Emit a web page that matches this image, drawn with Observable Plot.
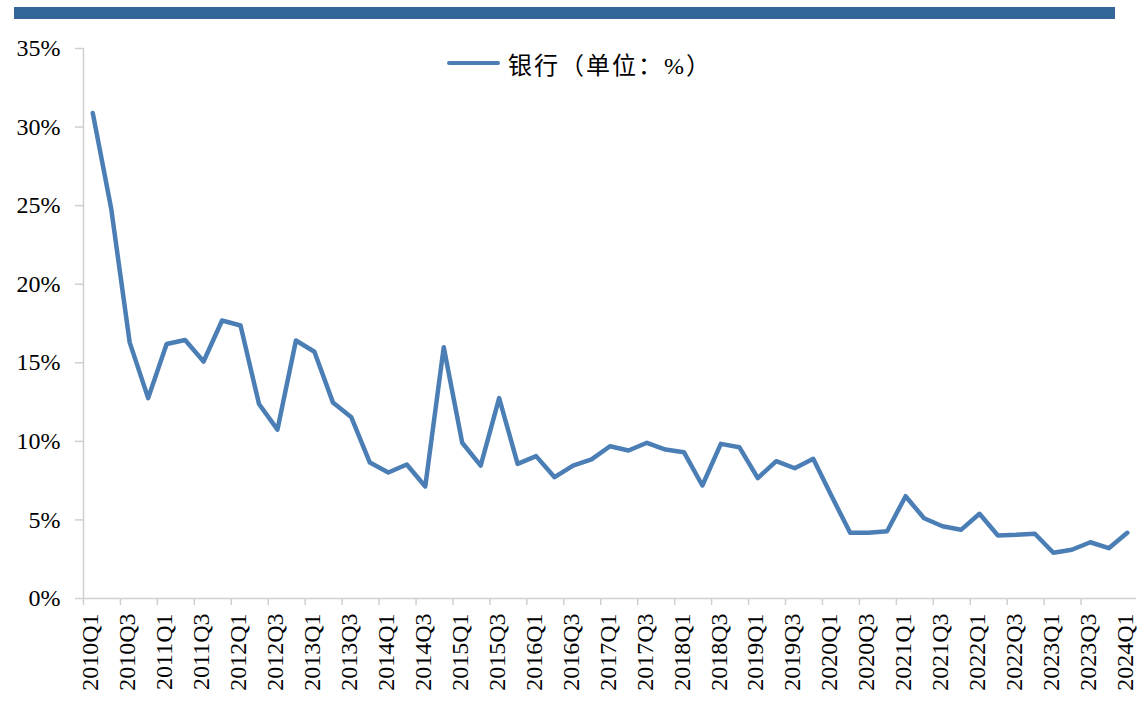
<!DOCTYPE html>
<html>
<head>
<meta charset="utf-8">
<script src="https://cdn.jsdelivr.net/npm/d3@7"></script>
<script src="https://cdn.jsdelivr.net/npm/@observablehq/plot@0.6"></script>
<style>
  html, body { margin: 0; padding: 0; background: #fff; }
  #wrap { position: relative; width: 1137px; height: 701px; overflow: hidden; }
  #bar { position: absolute; left: 14px; top: 7px; width: 1101px; height: 12px; background: #336699; }
  #chart { position: absolute; left: 0; top: 0; }
  #chart svg text { font-family: "Liberation Serif", "Times New Roman", "DejaVu Serif", serif; }
  #legend { position: absolute; left: 447px; top: 47px; height: 32px; display: flex; align-items: center;
            font-family: "Liberation Serif", "Times New Roman", "Noto Sans CJK SC", serif; font-size: 24px; color: #000; }
  #legend .swatch { width: 53px; height: 4px; background: #4a7eb5; border-radius: 2px; margin-right: 8px; }
  #legend .name { letter-spacing: 2px; }
</style>
</head>
<body>
<div id="wrap">
  <div id="chart"></div>
  <div id="bar"></div>
  <div id="legend"><span class="swatch"></span><span class="name">银行（单位：%）</span></div>
</div>
<script>
const seriesName = "银行（单位：%）";
const quarters = [
  "2010Q1","2010Q2","2010Q3","2010Q4",
  "2011Q1","2011Q2","2011Q3","2011Q4",
  "2012Q1","2012Q2","2012Q3","2012Q4",
  "2013Q1","2013Q2","2013Q3","2013Q4",
  "2014Q1","2014Q2","2014Q3","2014Q4",
  "2015Q1","2015Q2","2015Q3","2015Q4",
  "2016Q1","2016Q2","2016Q3","2016Q4",
  "2017Q1","2017Q2","2017Q3","2017Q4",
  "2018Q1","2018Q2","2018Q3","2018Q4",
  "2019Q1","2019Q2","2019Q3","2019Q4",
  "2020Q1","2020Q2","2020Q3","2020Q4",
  "2021Q1","2021Q2","2021Q3","2021Q4",
  "2022Q1","2022Q2","2022Q3","2022Q4",
  "2023Q1","2023Q2","2023Q3","2023Q4",
  "2024Q1"
];
const values = [
  30.9, 24.8, 16.3, 12.75,
  16.2, 16.45, 15.08, 17.69,
  17.37, 12.38, 10.75, 16.42,
  15.7, 12.48, 11.53, 8.65,
  8.02, 8.53, 7.13, 15.99,
  9.91, 8.46, 12.75, 8.57,
  9.06, 7.72, 8.46, 8.85,
  9.69, 9.42, 9.91, 9.48,
  9.31, 7.19, 9.84, 9.63,
  7.66, 8.74, 8.29, 8.89,
  6.5, 4.18, 4.18, 4.28,
  6.51, 5.11, 4.6, 4.37,
  5.39, 4.01, 4.05, 4.12,
  2.91, 3.1, 3.58, 3.2,
  4.18
];
const yTicks = [0, 5, 10, 15, 20, 25, 30, 35];

const data = quarters.map((q, i) => ({i, q, v: values[i]}));
const labelIdx = quarters.map((q, i) => i).filter(i => i % 2 === 0);
const boundaries = labelIdx.filter(i => i < quarters.length - 1).map(i => i - 0.5);

const gray = "#d0d0d0";
const chart = Plot.plot({
  width: 1137,
  height: 701,
  marginTop: 48,
  marginBottom: 103,
  marginLeft: 83,
  marginRight: 1,
  style: "font-family: 'Liberation Serif', 'Times New Roman', serif; font-size: 24px; color: #000; background: transparent;",
  x: {type: "linear", domain: [-0.5, quarters.length - 0.5]},
  y: {domain: [0, 35]},
  marks: [
    Plot.ruleY([0], {stroke: gray, strokeWidth: 1.5}),
    Plot.ruleX([-0.5], {y1: 0, y2: 35, stroke: gray, strokeWidth: 1.5}),
    Plot.axisY(yTicks, {tickSize: 8, tickPadding: 15, stroke: gray, strokeWidth: 1.5, fill: "#000", fontSize: 24, fontFamily: "Liberation Serif", tickFormat: d => d + "%", label: null}),
    Plot.axisX(boundaries, {tickSize: 7, stroke: gray, strokeWidth: 1.5, fill: "none", label: null}),
    Plot.axisX(labelIdx, {tickSize: 0, tickPadding: 15, tickRotate: -90, dx: -2, fill: "#000", fontSize: 24, fontFamily: "Liberation Serif", tickFormat: i => quarters[i], label: null}),
    Plot.lineY(data, {x: "i", y: "v", stroke: "#4a7eb5", strokeWidth: 4.5, strokeLinejoin: "round", strokeLinecap: "round"})
  ]
});
document.getElementById("chart").appendChild(chart);
</script>
</body>
</html>
